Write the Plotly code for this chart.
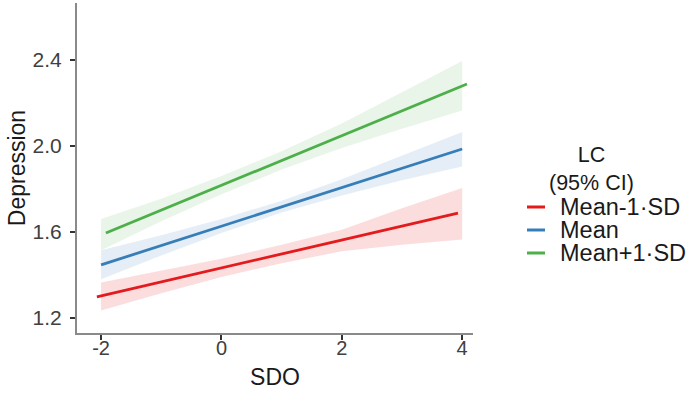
import plotly.graph_objects as go

# Data
series_names = ["Mean-1·SD", "Mean", "Mean+1·SD"]
series_colors = ["#E41A1C", "#377EB8", "#4DAF4A"]
band_fills = ["rgba(228,26,28,0.15)", "rgba(55,126,184,0.13)", "rgba(77,175,74,0.13)"]
legend_title = "LC<br>(95% CI)"

# fitted line end points (lines are slightly dodged horizontally)
line_x = [[-2.07, 3.93], [-2.0, 4.0], [-1.92, 4.08]]
line_y = [[1.298, 1.688], [1.447, 1.986], [1.595, 2.288]]

# 95% CI bands
band_x = [-2, -1, 0, 1, 2, 3, 4]
band_lower = [
    [1.235, 1.315, 1.39, 1.455, 1.51, 1.54, 1.565],
    [1.38, 1.49, 1.595, 1.69, 1.77, 1.84, 1.905],
    [1.515, 1.65, 1.775, 1.89, 1.99, 2.08, 2.165],
]
band_upper = [
    [1.365, 1.42, 1.475, 1.54, 1.61, 1.71, 1.805],
    [1.515, 1.585, 1.66, 1.745, 1.845, 1.955, 2.065],
    [1.66, 1.755, 1.86, 1.975, 2.105, 2.25, 2.395],
]

y_ticks = [1.2, 1.6, 2.0, 2.4]
y_tick_labels = ["1.2", "1.6", "2.0", "2.4"]
x_ticks = [-2, 0, 2, 4]
x_tick_labels = ["-2", "0", "2", "4"]

FONT = "Liberation Sans, Arial, sans-serif"
W, H = 689, 404
ML, MR, MT, MB = 77, 216, 3, 71
PW, PH = W - ML - MR, H - MT - MB


def px_to_paper_x(px):
    return (px - ML) / PW


def px_to_paper_y(py):
    return (H - MB - py) / PH


fig = go.Figure()

for i, name in enumerate(series_names):
    fig.add_trace(go.Scatter(
        x=band_x + band_x[::-1],
        y=band_upper[i] + band_lower[i][::-1],
        fill="toself",
        fillcolor=band_fills[i],
        line=dict(width=0),
        mode="lines",
        hoverinfo="skip",
        showlegend=False,
    ))

for i, name in enumerate(series_names):
    fig.add_trace(go.Scatter(
        x=line_x[i],
        y=line_y[i],
        mode="lines",
        line=dict(color=series_colors[i], width=2.8),
        name=name,
        showlegend=False,
    ))

# Legend (compact, drawn as annotations + key lines in paper space)
annotations = [dict(
    text=legend_title, xref="paper", yref="paper",
    x=px_to_paper_x(591), y=px_to_paper_y(169),
    xanchor="center", yanchor="middle", showarrow=False, align="center",
    font=dict(size=21.5, color="#1a1a1a", family=FONT),
)]
shapes = []
item_y = [207, 230, 253]
for i, name in enumerate(series_names):
    yy = px_to_paper_y(item_y[i])
    shapes.append(dict(
        type="line", xref="paper", yref="paper",
        x0=px_to_paper_x(527), x1=px_to_paper_x(545), y0=yy, y1=yy,
        line=dict(color=series_colors[i], width=3),
    ))
    annotations.append(dict(
        text=name, xref="paper", yref="paper",
        x=px_to_paper_x(559), y=yy, xanchor="left", yanchor="middle",
        height=20, valign="middle", borderpad=0,
        showarrow=False, font=dict(size=23.5, color="#1a1a1a", family=FONT),
    ))

fig.update_layout(
    width=W,
    height=H,
    margin=dict(l=ML, r=MR, t=MT, b=MB),
    paper_bgcolor="white",
    plot_bgcolor="white",
    font=dict(family=FONT, color="#333333", size=20),
    showlegend=False,
    annotations=annotations,
    shapes=shapes,
    xaxis=dict(
        range=[-2.4, 4.18],
        tickvals=x_ticks,
        ticktext=x_tick_labels,
        showgrid=False,
        zeroline=False,
        showline=True,
        linecolor="#8a8a8a",
        linewidth=2,
        ticks="outside",
        ticklen=5,
        tickwidth=1.5,
        tickcolor="#333333",
        tickfont=dict(size=20, color="#404040"),
        ticklabelstandoff=-9,
        automargin=False,
        title=dict(text="SDO", font=dict(size=23, color="#1a1a1a"), standoff=11),
    ),
    yaxis=dict(
        range=[1.13, 2.665],
        tickvals=y_ticks,
        ticktext=y_tick_labels,
        showgrid=False,
        zeroline=False,
        showline=True,
        linecolor="#8a8a8a",
        linewidth=2,
        ticks="outside",
        ticklen=5,
        tickwidth=1.5,
        tickcolor="#333333",
        tickfont=dict(size=21, color="#404040"),
        ticklabelstandoff=4,
        automargin=False,
        title=dict(text="Depression", font=dict(size=23, color="#1a1a1a"), standoff=1),
    ),
)

fig.write_html("out.html", config={"displayModeBar": False},
               post_script="document.body.style.margin='0';")
